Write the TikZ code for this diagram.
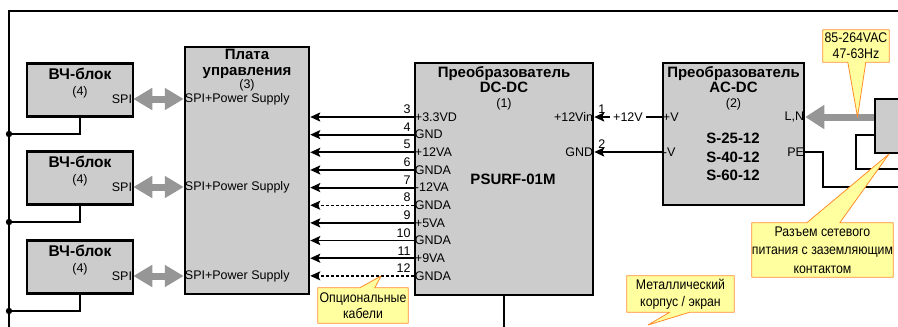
\documentclass[tikz,border=0pt]{standalone}
\usepackage{fontspec}
\setmainfont{Liberation Sans}
\newfontfamily\narrowfont[FakeStretch=0.88]{Liberation Sans}
\usepackage{xcolor}
\usepackage{tikz}
\usetikzlibrary{arrows.meta, positioning, calc}
\definecolor{boxgray}{RGB}{204,204,204}
\definecolor{fatgray}{RGB}{150,150,150}
\definecolor{notefill}{RGB}{255,255,160}
\definecolor{noteline}{RGB}{255,140,40}
\newcommand{\pinfont}{\fontsize{12.5}{15}\selectfont\mdseries}
\newcommand{\titlefont}{\fontsize{15}{15.5}\selectfont\bfseries}
\tikzstyle{block} = [rectangle, draw=black, line width=2.5pt, fill=boxgray, inner sep=0pt]
\tikzstyle{blocktitle} = [align=center, font=\titlefont, inner sep=0pt]
\tikzstyle{pinlabel} = [font=\pinfont, inner sep=1pt]
\tikzstyle{wire} = [line width=1.8pt, -{Stealth[length=10pt,width=9pt,inset=2pt]}]
\tikzstyle{optional} = [wire, line width=1.3pt, dash pattern=on 3pt off 2pt]
\tikzstyle{thinwire} = [line width=1.6pt]
\tikzstyle{enclosure} = [line width=2.5pt]
\tikzstyle{fat} = [line width=7pt, draw=fatgray, {Triangle[length=19pt,width=21pt]}-{Triangle[length=19pt,width=21pt]}]
\tikzstyle{mains} = [line width=7pt, draw=fatgray, -{Triangle[length=19pt,width=23pt]}]
\tikzstyle{notebox} = [rectangle, fill=notefill, align=center, font=\narrowfont\fontsize{14}{16}\selectfont, inner sep=0pt]
\tikzstyle{noteedge} = [draw=noteline, line width=0.8pt, line join=round]

\begin{document}
\begin{tikzpicture}[x=1pt, y=-1pt]
\clip (0,0) rectangle (898,327);
\draw[enclosure] (9,330) -- (9,11) -- (900,11);

% control board
\node[block, minimum width=124pt, minimum height=247pt] (plata) at (247,170.5) {};
\node[blocktitle] (platat) at ($(plata.north)+(0,24.5)$) {Плата\\управления\\[-2.5pt]{\pinfont(3)}};

% RF units
\foreach \k/\y in {1/90, 2/178, 3/267}{
  \node[block, minimum width=106pt, minimum height=53pt] (rf\k) at (80,\y) {};
  \node[blocktitle, font=\fontsize{15.5}{16}\selectfont\bfseries] (rft\k) at ($(rf\k.north)+(0,21)$) {ВЧ-блок\\{\pinfont(4)}};
  \node[pinlabel, anchor=east] (spi\k) at ($(rf\k.east)+(-1,9)$) {SPI};
  \node[pinlabel, anchor=west] (sps\k) at (plata.west |- spi\k) {SPI+Power Supply};
  \draw[fat] (spi\k.east) -- (sps\k.west);
  \coordinate (g\k) at (9,\y+44);
  \draw[thinwire] (rf\k.south) |- (g\k);
  \fill (g\k) circle (3.2pt);
}

% DC-DC converter
\node[block, minimum width=178pt, minimum height=232pt] (dcdc) at (504,179) {};
\node[blocktitle] (dcdct) at ($(dcdc.north)+(0,26.5)$) {Преобразователь\\DC-DC\\[-1pt]{\pinfont(1)}};
\node[blocktitle, font=\fontsize{15}{16}\selectfont\bfseries] (psu) at (513,179) {PSURF-01M};
\foreach \n/\lab/\st [count=\i from 0] in {3/+3.3VD/wire, 4/GND/wire, 5/+12VA/wire, 6/GNDA/wire, 7/-12VA/wire, 8/GNDA/optional, 9/+5VA/wire, 10/GNDA/wire, 11/+9VA/wire, 12/GNDA/optional}{
  \node[pinlabel, anchor=west] (p\n) at ($(dcdc.west |- 0,117)+(0,{\i*17.65})$) {\lab};
  \node[pinlabel, anchor=south east] (n\n) at ($(p\n.west)+(-2,-2)$) {\n};
  \draw[\st] (p\n.west) -- (p\n.west -| plata.east);
}
\node[pinlabel, anchor=east] (vin) at (dcdc.east |- 0,117) {+12Vin};
\node[pinlabel, anchor=east] (vgnd) at (dcdc.east |- 0,152) {GND};
\node[pinlabel, anchor=south west] (n1) at ($(vin.east)+(3,-2)$) {1};
\node[pinlabel, anchor=south west] (n2) at ($(vgnd.east)+(3,-2)$) {2};
\coordinate (chassis) at (504,330);
\draw[thinwire] (dcdc.south) -- (chassis);

% AC-DC converter
\node[block, minimum width=141pt, minimum height=142pt] (acdc) at (733.5,134) {};
\node[blocktitle] (acdct) at ($(acdc.north)+(0,26.5)$) {Преобразователь\\AC-DC\\[-1pt]{\pinfont(2)}};
\node[blocktitle, font=\fontsize{15}{18.5}\selectfont\bfseries] (model) at (733,157) {S-25-12\\S-40-12\\S-60-12};
\node[pinlabel, anchor=west] (pv) at (acdc.west |- 0,117) {+V};
\node[pinlabel, anchor=west] (mv) at (acdc.west |- 0,152) {-V};
\node[pinlabel, anchor=east] (ln) at (acdc.east |- 0,117) {L,N};
\node[pinlabel, anchor=east] (pe) at (acdc.east |- 0,152) {PE};
\draw[wire] (pv.west) -- node[pinlabel, fill=white, inner sep=3pt] (v12) {+12V} (vin.east);
\draw[wire] (mv.west) -- (vgnd.east);

% mains socket
\node[block, minimum width=50pt, minimum height=54pt] (plug) at (900,126) {};
\draw[mains] (plug.west |- ln.east) -- (ln.east);
\coordinate (mainsn) at (905,169);
\coordinate (mainspe) at (905,187);
\draw[thinwire] (plug.west |- 0,135) -- ++(-18,0) |- (mainsn);
\draw[thinwire] (pe.east) -- ++(18,0) |- (mainspe);

% callouts
\node[notebox, minimum width=66pt, minimum height=32pt] (acnote) at (856,46) {85-264VAC\\47-63Hz};
\coordinate (actip) at (857.5,117);
\fill[notefill] ($(acnote.south west)+(25,0)$) -- (actip) -- ($(acnote.south west)+(43,0)$) -- cycle;
\draw[noteedge] (acnote.south west) -- (acnote.north west) -- (acnote.north east) -- (acnote.south east) -- ($(acnote.south west)+(43,0)$) -- (actip) -- ($(acnote.south west)+(25,0)$) -- cycle;

\node[notebox, minimum width=141pt, minimum height=54pt, font=\narrowfont\fontsize{14}{18.5}\selectfont] (plugnote) at (822.5,250) {Разъем сетевого\\питания с заземляющим\\контактом};
\coordinate (plugtip) at (889,154);
\fill[notefill] ($(plugnote.north west)+(55,0)$) -- (plugtip) -- ($(plugnote.north west)+(88,0)$) -- cycle;
\draw[noteedge] (plugnote.north west) -- ($(plugnote.north west)+(55,0)$) -- (plugtip) -- ($(plugnote.north west)+(88,0)$) -- (plugnote.north east) -- (plugnote.south east) -- (plugnote.south west) -- cycle;

\node[notebox, minimum width=107pt, minimum height=36pt, font=\narrowfont\fontsize{14}{17}\selectfont] (shieldnote) at (680.5,294) {Металлический\\корпус / экран};
\coordinate (shieldtip) at (648,325);
\fill[notefill] ($(shieldnote.south west)+(43,0)$) -- (shieldtip) -- ($(shieldnote.south west)+(63,0)$) -- cycle;
\draw[noteedge] (shieldnote.south west) -- (shieldnote.north west) -- (shieldnote.north east) -- (shieldnote.south east) -- ($(shieldnote.south west)+(63,0)$) -- (shieldtip) -- ($(shieldnote.south west)+(43,0)$) -- cycle;

\node[notebox, minimum width=90pt, minimum height=35pt] (optnote) at (363,305.5) {Опциональные\\кабели};
\coordinate (opttip) at (381,276);
\fill[notefill] ($(optnote.north west)+(42,0)$) -- (opttip) -- ($(optnote.north west)+(57,0)$) -- cycle;
\draw[noteedge] (optnote.north west) -- ($(optnote.north west)+(42,0)$) -- (opttip) -- ($(optnote.north west)+(57,0)$) -- (optnote.north east) -- (optnote.south east) -- (optnote.south west) -- cycle;
\end{tikzpicture}
\end{document}
